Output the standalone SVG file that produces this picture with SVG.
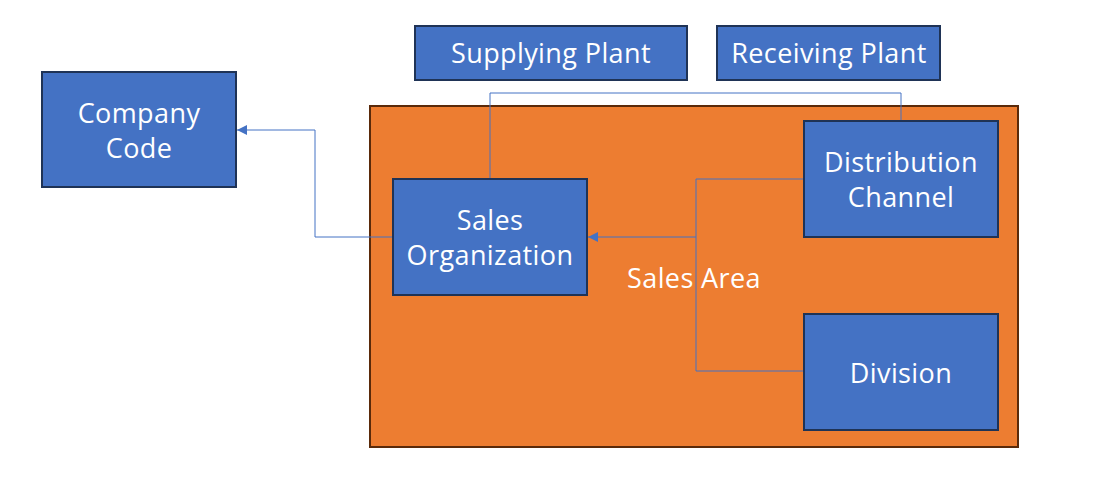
<svg xmlns="http://www.w3.org/2000/svg" width="1107" height="485" viewBox="0 0 1107 485">
<style>
.box{fill:#4472C4;stroke:#1F3356;stroke-width:2}
.t{font-family:"Open Sans","Noto Sans",sans-serif;font-size:27px;letter-spacing:0.4px;fill:#FFFFFF;text-anchor:middle;dominant-baseline:central}
.c{fill:none;stroke:#4472C4;stroke-width:1}
</style>
<defs>
<marker id="ah" markerWidth="10" markerHeight="10" refX="10" refY="5" orient="auto" markerUnits="userSpaceOnUse">
<path d="M0,0 L10,5 L0,10 Z" fill="#4472C4"/>
</marker>
</defs>
<rect width="1107" height="485" fill="#FFFFFF"/>
<g id="sales-area">
<rect x="370" y="106" width="648" height="341" fill="#ED7D31" stroke="#5A2A0A" stroke-width="2"/>
<text class="t" x="694" y="277">Sales Area</text>
</g>
<g id="company-code">
<rect class="box" x="42" y="72" width="194" height="115"/>
<text class="t" x="139" y="112">Company</text>
<text class="t" x="139" y="147">Code</text>
</g>
<g id="supplying-plant">
<rect class="box" x="415" y="26" width="272" height="54"/>
<text class="t" x="551" y="52">Supplying Plant</text>
</g>
<g id="receiving-plant">
<rect class="box" x="717" y="26" width="223" height="54"/>
<text class="t" x="829" y="52">Receiving Plant</text>
</g>
<g id="connectors">
<path class="c" d="M393,237 H315 V130 H237" marker-end="url(#ah)"/>
<path class="c" d="M490,179 V93 H901 V121"/>
<path class="c" d="M804,179 H696 V371 H804" stroke="#5E78A8"/>
<path class="c" d="M696,237 H588" marker-end="url(#ah)"/>
</g>
<g id="sales-organization">
<rect class="box" x="393" y="179" width="194" height="116"/>
<text class="t" x="490" y="219">Sales</text>
<text class="t" x="490" y="254">Organization</text>
</g>
<g id="distribution-channel">
<rect class="box" x="804" y="121" width="194" height="116"/>
<text class="t" x="901" y="161">Distribution</text>
<text class="t" x="901" y="196">Channel</text>
</g>
<g id="division">
<rect class="box" x="804" y="314" width="194" height="116"/>
<text class="t" x="901" y="372">Division</text>
</g>
</svg>
